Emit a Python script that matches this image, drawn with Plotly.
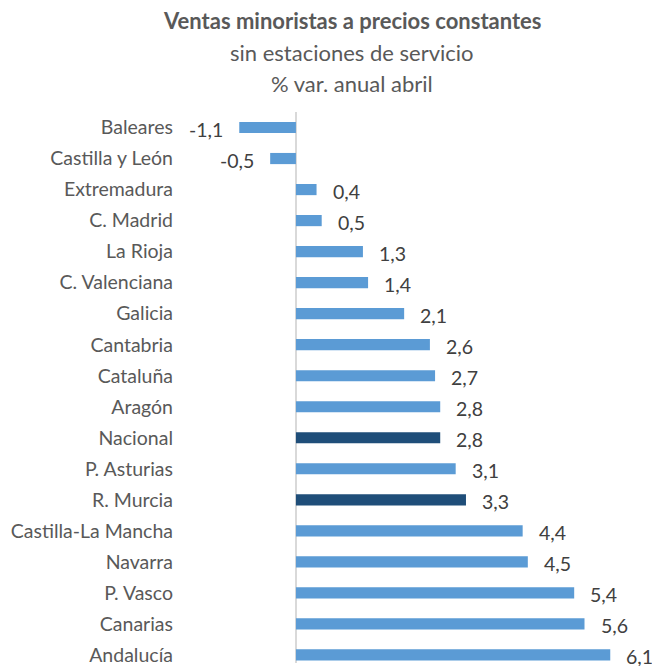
import plotly.graph_objects as go

regions = ["Baleares", "Castilla y León", "Extremadura", "C. Madrid", "La Rioja",
           "C. Valenciana", "Galicia", "Cantabria", "Cataluña", "Aragón", "Nacional",
           "P. Asturias", "R. Murcia", "Castilla-La Mancha", "Navarra", "P. Vasco",
           "Canarias", "Andalucía"]
values = [-1.1, -0.5, 0.4, 0.5, 1.3, 1.4, 2.1, 2.6, 2.7, 2.8, 2.8, 3.1, 3.3, 4.4, 4.5, 5.4, 5.6, 6.1]
highlight = ["Nacional", "R. Murcia"]

LIGHT = "#5B9BD5"
DARK = "#1F4E79"
colors = [DARK if r in highlight else LIGHT for r in regions]
FONT = "Lato"

W, H = 652, 666
L, R, T, B = 180, 0, 112, 0
PW, PH = W - L - R, H - T - B

fig = go.Figure(go.Bar(
    x=values, y=regions, orientation="h",
    marker=dict(color=colors, line=dict(width=0)),
    width=0.36,
    hoverinfo="skip",
))

annotations = []
for r, v in zip(regions, values):
    label = f"{v:.1f}".replace(".", ",")
    annotations.append(dict(
        x=v, y=r, xref="x", yref="y", text=label, showarrow=False,
        xanchor="left" if v >= 0 else "right",
        xshift=14 if v >= 0 else -14, yshift=-2,
        font=dict(family=FONT, size=19.5, color="#404040"),
    ))

titles = [("<b>Ventas minoristas a precios constantes</b>", 20, 22),
          ("sin estaciones de servicio", 52, 22),
          ("% var. anual abril", 83, 22)]
for t, ypx, sz in titles:
    annotations.append(dict(
        x=(352 - L) / PW, y=(H - B - ypx) / PH, xref="paper", yref="paper",
        text=t, showarrow=False, xanchor="center", yanchor="middle",
        font=dict(family=FONT, size=sz, color="#595959"),
    ))

fig.update_layout(
    width=W, height=H,
    margin=dict(l=L, r=R, t=T, b=B),
    paper_bgcolor="white", plot_bgcolor="white",
    showlegend=False,
    annotations=annotations,
    xaxis=dict(range=[-2.25, 6.91], showgrid=False, zeroline=True,
               zerolinecolor="#D9D9D9", zerolinewidth=1.5,
               showticklabels=False, showline=False, ticks=""),
    yaxis=dict(type="category", range=[17.26, -0.5], showgrid=False,
               showline=False, ticks="",
               tickfont=dict(family=FONT, size=19.5, color="#595959"),
               ticklabelstandoff=6),
)

fig.write_html("out.html")
